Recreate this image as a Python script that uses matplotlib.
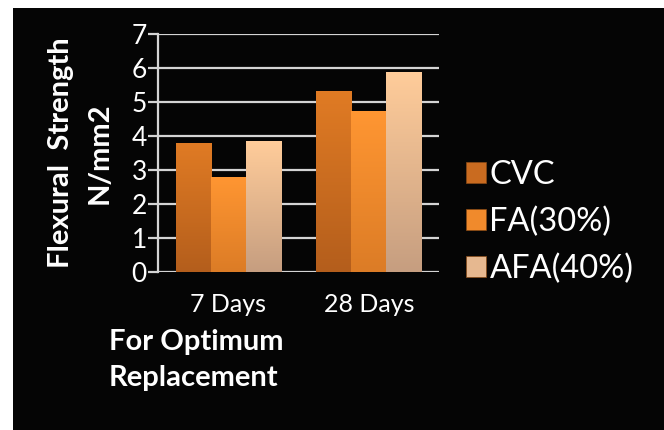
import numpy as np
import matplotlib.pyplot as plt
from matplotlib.colors import LinearSegmentedColormap
from matplotlib.patches import Rectangle

plt.rcParams['font.family'] = ['Lato', 'DejaVu Sans']

days = ['7 Days', '28 Days']
series = ['CVC', 'FA(30%)', 'AFA(40%)']
cvc = [3.8, 5.33]
fa = [2.8, 4.74]
afa = [3.85, 5.88]

# top / bottom colour of the gradient fill per series
tops = ['#e07b24', '#ff9632', '#ffcc9a']
bottoms = ['#b45e1c', '#dc7c26', '#c69e80']
mids = ['#c96b20', '#f08a2c', '#e6b890']

fig = plt.figure(figsize=(6.64, 4.30), dpi=100)
fig.patch.set_facecolor('white')
fig.patches.append(Rectangle((13/664, 0), 1 - 13/664, 1 - 8/430,
                             transform=fig.transFigure, facecolor='#050505',
                             edgecolor='none', zorder=-5))

ax = fig.add_axes([158/664, 1 - 272/430, 281/664, (272 - 34.3)/430])
ax.set_facecolor('none')

x = np.arange(len(days))
w = 0.25
for i, (vals, top, bot) in enumerate(zip([cvc, fa, afa], tops, bottoms)):
    bars = ax.bar(x + (i - 1) * w, vals, w, color=top, edgecolor='none', zorder=3)
    cmap = LinearSegmentedColormap.from_list('g%d' % i, [bot, top])
    for b in bars:
        x0, y0 = b.get_x(), b.get_y()
        grad = np.linspace(0, 1, 100).reshape(-1, 1)
        im = ax.imshow(grad, cmap=cmap, origin='lower', aspect='auto',
                       extent=[x0, x0 + b.get_width(), y0, y0 + b.get_height()],
                       zorder=4)
        im.set_clip_path(b)

ax.set_xlim(-0.5, 1.5)
ax.set_ylim(0, 7)
ax.set_yticks(range(0, 8))
ax.yaxis.grid(True, color='#d4d4d4', linewidth=1.6, zorder=1)
ax.set_axisbelow(True)
for s in ['top', 'right', 'bottom']:
    ax.spines[s].set_visible(False)
ax.spines['left'].set_color('#d4d4d4')
ax.spines['left'].set_linewidth(1.6)
ax.tick_params(axis='y', colors='#d4d4d4', length=7, width=1.6, labelsize=19,
               labelcolor='white', pad=1)
ax.set_xticks(x)
ax.set_xticklabels(days)
ax.tick_params(axis='x', length=0, labelsize=18, labelcolor='white', pad=15)

# y axis label, two lines
fig.text(61/664, 1 - 153/430, 'Flexural  Strength', rotation=90, color='white',
         fontsize=21, fontweight='bold', ha='center', va='center')
fig.text(100/664, 1 - 153/430, 'N/mm2', rotation=90, color='white',
         fontsize=21, fontweight='bold', ha='center', va='center')

fig.text(109/664, 1 - 342/430, 'For Optimum', color='white', fontsize=21,
         fontweight='bold', ha='left', va='center')
fig.text(109/664, 1 - 378/430, 'Replacement', color='white', fontsize=21,
         fontweight='bold', ha='left', va='center')

handles = [Rectangle((0, 0), 1, 1, facecolor=c, edgecolor='#8a4a15', linewidth=0.5)
           for c in mids]
leg = fig.legend(handles, series, loc='center left',
                 bbox_to_anchor=(466/664, 1 - 222/430), frameon=False,
                 fontsize=23.5, labelcolor='white', handlelength=0.6,
                 handleheight=0.6, handletextpad=0.12, labelspacing=0.5,
                 borderpad=0, borderaxespad=0)

fig.savefig('out.png', dpi=100, facecolor=fig.get_facecolor())
